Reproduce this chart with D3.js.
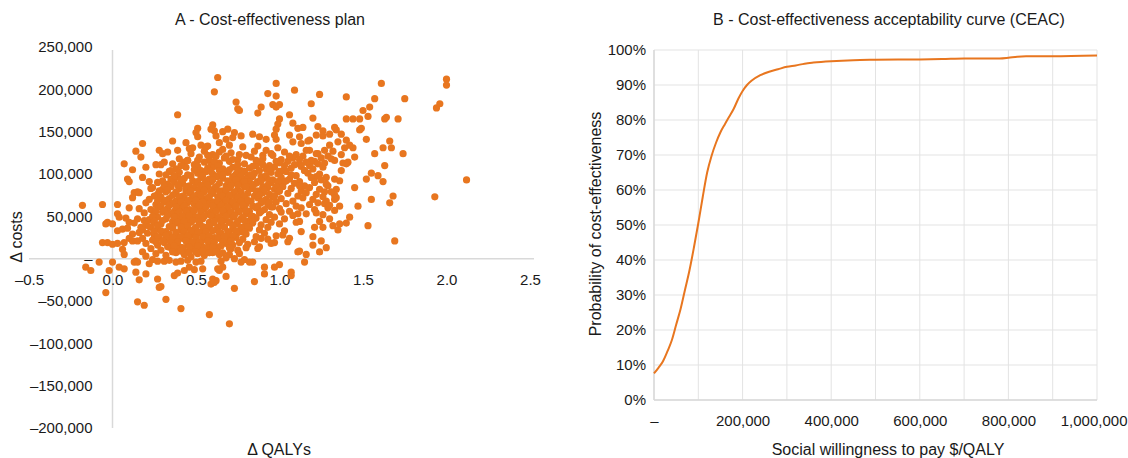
<!DOCTYPE html>
<html>
<head>
<meta charset="utf-8">
<script src="https://cdn.jsdelivr.net/npm/d3@7"></script>
<style>
    body { margin: 0; background: #fff; }
    svg text { font-family: "Liberation Sans", Arial, Helvetica, sans-serif; fill: #1a1a1a; }
</style>
</head>
<body>
<svg id="chart" width="1128" height="458"></svg>
<script>
// Panel A : incremental QALYs vs incremental costs (costs in thousands of $)
const scatterPoints = [
    // sparse upper / outer points
    [0.39,170],[0.51,154],[0.50,149],[0.51,144],[0.18,136],[0.14,127],[0.17,120],[0.28,128],[0.30,124],[0.36,139],
    [0.39,128],[0.44,137],[0.48,131],[0.53,134],[0.56,132],[0.07,112],[0.12,105],[0.09,94],[0.10,91],[0.26,111],
    [0.29,111],[0.36,112],[0.28,100],[0.34,103],[0.43,114],[0.45,116],[0.51,116],[0.22,91],[0.23,83],[0.13,78],[0.15,79],
    [0.63,214],[0.61,197],[0.98,207],[1.09,199],[1.24,194],[1.40,191],[0.93,195],[0.98,192],[0.74,185],[0.75,177],
    [0.76,175],[0.89,179],[0.96,182],[0.98,179],[1.00,182],[0.87,172],[1.06,170],[1.19,183],[1.00,165],[0.99,159],
    [0.98,153],[0.97,146],[0.98,141],[1.08,160],[1.11,154],[1.14,155],[1.20,166],[1.23,156],[1.26,151],[1.33,155],
    [1.34,152],[1.40,165],[1.06,146],[1.12,144],[1.18,140],[1.22,146],[1.26,145],[1.30,147],[1.08,138],[1.13,136],
    [1.17,139],[0.61,151],[0.62,145],[0.69,153],[0.68,141],[0.73,149],[0.77,145],[0.84,147],[0.88,144],[0.92,141],
    [0.57,133],[0.66,129],[0.70,134],[0.78,132],[0.87,133],[0.92,128],[0.99,131],[0.60,158],[0.59,153],[0.66,150],
    [0.72,143],[0.64,137],[0.46,130],
    [1.18,128],[1.23,124],[1.27,128],[1.32,127],[1.37,123],[1.39,131],[1.21,115],[1.27,113],[1.33,116],[1.38,113],
    [1.41,114],[1.12,112],[1.15,104],[1.18,110],[1.24,100],[1.28,96],[1.33,94],[1.36,92],[1.34,82],[1.29,86],
    [1.37,104],[1.40,112],[1.37,147],[1.40,140],[1.35,138],[1.30,134],[1.44,131],
    [1.61,207],[2.00,212],[2.00,205],[1.57,189],[1.75,189],[1.54,179],[1.50,175],[1.96,183],[1.94,178],
    [1.44,165],[1.48,165],[1.53,168],[1.63,165],[1.64,167],[1.71,165],[1.49,154],[1.48,152],[1.42,134],[1.52,141],
    [1.66,139],[1.62,131],[1.67,131],[1.45,120],[1.57,124],[1.74,124],[1.63,110],[1.55,101],[1.52,94],[1.59,98],
    [1.62,91],[2.12,93],[1.45,84],[1.68,74],[1.93,73],[1.55,70],
    [1.42,49],[1.47,62],[1.66,66],[1.53,39],[1.69,21],
    [1.27,65],[1.33,75],[1.34,72],[1.26,52],[1.30,47],[1.33,57],[1.24,44],[1.36,62],
    // lower / negative points
    [0.70,-77],[0.58,-66],[0.73,-35],[0.85,-27],[0.62,-26],[0.59,-30],[0.68,-21],[0.64,-14],[0.66,-10],[0.91,-10],
    [0.91,-18],[0.97,-10],[1.00,-7],[1.07,-16],[1.07,-20],[1.15,-4],[1.11,8],[1.16,5],[1.24,8],[1.28,13],
    [1.20,26],[1.20,16],[1.25,21],[1.21,37],[1.26,37],[1.32,39],[1.35,34],[1.36,41],[1.40,42],[1.13,32],
    [1.12,9],[1.29,60],[1.28,68],[1.18,64],[1.16,53],[1.11,53],[1.10,43],[1.05,20],[1.06,24],[1.03,33],
    [0.98,27],[0.97,19],[0.93,23],[0.87,12],[0.84,-4],[0.79,-1],[0.77,-4],[0.82,-4],[0.73,0],[0.70,5],
    [0.60,-24],[0.61,-28],[0.63,-12],[0.65,-3],[0.58,7],
    [-0.18,63],[-0.06,64],[-0.04,41],[-0.03,43],[0.03,64],[0.03,53],[0.04,49],[0.00,41],[0.03,33],[0.06,35],
    [0.10,43],[0.16,59],[0.15,47],[0.17,37],[0.19,45],[0.16,31],[0.12,29],[-0.06,19],[-0.03,19],[0.00,17],
    [0.03,18],[0.07,19],[0.10,24],[0.12,21],[0.15,21],[0.06,11],[0.07,5],[0.00,-4],[-0.02,-14],[0.04,-10],
    [0.07,-12],[-0.08,-4],[-0.16,-10],[-0.13,-14],[-0.04,-40],[0.13,-4],[0.14,-3],[0.15,-4],[0.18,8],[0.20,3],
    [0.22,-6],[0.24,-1],[0.27,-3],[0.31,-3],[0.34,-2],[0.38,-4],[0.41,-3],[0.45,-2],[0.50,-4],[0.53,-3],
    [0.14,-16],[0.20,-18],[0.16,-25],[0.27,-24],[0.28,-34],[0.29,-33],[0.32,-48],[0.15,-51],[0.19,-55],[0.41,-59],
    [0.37,-20],[0.39,-17],[0.43,-14],[0.46,-10],[0.49,-13],[0.54,-12],
    // dense core
    [0.33,126],[0.47,124],[0.55,127],[0.60,123],[0.64,126],[0.71,125],[0.80,122],[0.85,127],[0.95,124],[1.03,126],[1.10,123],[1.16,128],[1.22,124],[1.29,121],
    [0.40,118],[0.52,120],[0.58,116],[0.62,121],[0.67,119],[0.75,117],[0.83,120],[0.90,118],[0.96,122],[1.01,117],[1.08,119],[1.14,121],[1.19,116],[1.25,119],[1.31,118],
    [0.31,114],[0.49,111],[0.55,114],[0.59,110],[0.64,113],[0.70,115],[0.79,112],[0.88,114],[0.94,110],[1.00,113],[1.05,115],[1.09,111],[1.16,114],[1.23,112],
    [0.20,108],[0.38,106],[0.44,108],[0.53,104],[0.57,107],[0.61,109],[0.66,106],[0.72,108],[0.77,104],[0.82,107],[0.86,110],[0.92,106],[0.97,108],[1.02,104],[1.07,107],[1.13,109],[1.20,106],[1.26,108],
    [0.32,99],[0.40,102],[0.47,98],[0.51,101],[0.56,103],[0.60,100],[0.63,97],[0.69,102],[0.74,100],[0.79,103],[0.81,98],[0.85,101],[0.89,97],[0.95,102],[0.99,100],[1.04,103],[1.10,98],[1.17,101],[1.22,97],
    [0.18,96],[0.35,94],[0.39,97],[0.43,95],[0.48,92],[0.53,96],[0.58,94],[0.62,97],[0.66,95],[0.71,92],[0.76,96],[0.80,94],[0.84,97],[0.87,91],[0.92,95],[0.96,93],[1.01,96],[1.06,94],[1.12,91],[1.19,96],[1.25,93],
    [0.27,90],[0.33,88],[0.37,91],[0.42,89],[0.46,86],[0.50,90],[0.55,88],[0.59,91],[0.64,89],[0.68,86],[0.73,90],[0.77,88],[0.82,91],[0.86,89],[0.90,85],[0.95,90],[1.00,88],[1.03,91],[1.09,89],[1.15,86],[1.21,90],[1.28,88],
    [0.24,84],[0.30,82],[0.35,85],[0.40,83],[0.44,80],[0.49,84],[0.52,82],[0.57,85],[0.61,83],[0.66,80],[0.70,84],[0.75,81],[0.79,85],[0.83,83],[0.88,80],[0.93,84],[0.97,82],[1.02,85],[1.07,83],[1.13,80],[1.18,84],[1.24,82],[1.31,79],
    [0.16,78],[0.27,76],[0.32,79],[0.38,77],[0.42,74],[0.46,78],[0.51,76],[0.55,79],[0.60,77],[0.63,73],[0.68,78],[0.72,76],[0.77,79],[0.81,77],[0.85,74],[0.90,78],[0.94,76],[0.99,79],[1.05,77],[1.11,74],[1.16,78],[1.22,76],[1.27,79],
    [0.12,72],[0.22,70],[0.29,73],[0.34,71],[0.38,68],[0.43,72],[0.47,70],[0.52,73],[0.56,71],[0.60,67],[0.65,72],[0.70,70],[0.74,73],[0.79,71],[0.83,68],[0.87,72],[0.92,70],[0.96,73],[1.01,71],[1.08,68],[1.14,72],[1.20,70],[1.26,73],[1.33,70],
    [0.20,66],[0.26,64],[0.31,67],[0.36,65],[0.40,62],[0.45,66],[0.49,64],[0.54,67],[0.58,65],[0.62,61],[0.67,66],[0.71,64],[0.76,67],[0.80,65],[0.84,62],[0.89,66],[0.93,64],[0.98,67],[1.04,65],[1.10,62],[1.23,66],[1.30,63],
    [0.10,60],[0.23,58],[0.28,61],[0.33,59],[0.37,56],[0.42,60],[0.46,58],[0.51,61],[0.55,59],[0.59,55],[0.64,60],[0.68,58],[0.73,61],[0.78,59],[0.82,56],[0.86,60],[0.91,58],[0.95,61],[1.00,59],[1.06,56],[1.13,60],[1.21,58],
    [0.19,54],[0.25,52],[0.30,55],[0.35,53],[0.39,50],[0.44,54],[0.48,52],[0.53,55],[0.57,53],[0.61,49],[0.66,54],[0.70,52],[0.75,55],[0.80,53],[0.84,50],[0.88,54],[0.94,52],[1.01,55],[1.08,51],[1.22,54],
    [0.08,48],[0.22,46],[0.27,49],[0.32,47],[0.36,44],[0.41,48],[0.45,46],[0.50,49],[0.54,47],[0.58,43],[0.63,48],[0.67,46],[0.72,49],[0.77,47],[0.81,44],[0.86,48],[0.92,46],[0.97,49],[1.03,47],[1.12,44],
    [0.13,42],[0.20,40],[0.25,43],[0.29,41],[0.34,38],[0.38,42],[0.43,40],[0.47,43],[0.52,41],[0.56,37],[0.60,42],[0.65,40],[0.70,43],[0.74,41],[0.79,38],[0.84,42],[0.89,40],[0.95,43],[1.00,41],
    [0.09,36],[0.18,34],[0.23,37],[0.27,35],[0.32,32],[0.36,36],[0.41,34],[0.45,37],[0.49,35],[0.54,31],[0.58,36],[0.62,34],[0.67,37],[0.72,35],[0.77,32],[0.82,36],[0.88,34],[0.93,37],
    [0.21,30],[0.25,28],[0.30,31],[0.34,29],[0.39,26],[0.43,30],[0.48,28],[0.52,31],[0.56,29],[0.61,25],[0.65,30],[0.70,28],[0.75,31],[0.80,29],[0.86,26],[0.91,30],[1.02,28],
    [0.18,24],[0.24,22],[0.28,25],[0.33,23],[0.37,20],[0.42,24],[0.46,22],[0.50,25],[0.55,23],[0.59,19],[0.64,24],[0.69,22],[0.74,25],[0.78,23],[0.85,20],[0.89,24],
    [0.20,18],[0.27,16],[0.31,19],[0.36,17],[0.40,14],[0.45,18],[0.49,16],[0.53,19],[0.58,17],[0.63,13],[0.68,18],[0.72,16],[0.76,19],[0.81,17],[0.88,14],[0.95,18],
    [0.23,12],[0.29,10],[0.35,13],[0.39,11],[0.44,8],[0.48,12],[0.52,10],[0.57,13],[0.62,11],[0.66,7],[0.71,12],[0.75,10],[0.80,13],
    [0.26,6],[0.32,4],[0.38,7],[0.43,5],[0.47,2],[0.51,6],[0.55,4],[0.60,7],[0.64,5],[0.68,1],[0.76,6],
    // core fill between the rows above
    [0.57,122],[0.68,121],[0.76,123],[0.90,122],[1.06,121],
    [0.45,116],[0.61,115],[0.72,117],[0.86,116],[0.98,115],[1.12,117],
    [0.41,110],[0.51,109],[0.63,110],[0.75,111],[0.84,109],[0.90,111],[1.03,110],
    [0.35,104],[0.49,105],[0.59,103],[0.64,104],[0.70,105],[0.75,103],[0.88,104],[0.94,105],[1.00,103],[1.15,104],
    [0.37,98],[0.45,99],[0.54,98],[0.66,99],[0.72,97],[0.77,98],[0.83,99],[0.92,98],[1.07,99],
    [0.30,92],[0.41,93],[0.51,91],[0.56,92],[0.60,93],[0.69,92],[0.74,93],[0.79,91],[0.89,92],[0.94,93],[0.99,91],[1.04,92],
    [0.31,86],[0.39,87],[0.44,85],[0.53,86],[0.57,87],[0.62,85],[0.71,86],[0.75,87],[0.80,85],[0.84,86],[0.93,87],[0.98,85],[1.12,86],
    [0.28,80],[0.33,81],[0.38,79],[0.47,80],[0.55,81],[0.59,79],[0.64,80],[0.68,81],[0.73,79],[0.86,80],[0.91,81],[1.00,80],
    [0.25,74],[0.36,75],[0.40,73],[0.49,74],[0.53,75],[0.58,73],[0.66,74],[0.70,75],[0.75,73],[0.79,74],[0.88,75],[0.97,74],
    [0.27,68],[0.32,69],[0.41,67],[0.45,68],[0.50,69],[0.54,67],[0.63,68],[0.68,69],[0.72,67],[0.77,68],[0.81,69],[0.90,68],[0.94,67],
    [0.29,62],[0.34,63],[0.38,61],[0.43,62],[0.52,63],[0.56,61],[0.60,62],[0.65,63],[0.69,61],[0.74,62],[0.78,63],[0.87,62],[0.96,61],
    [0.26,56],[0.31,57],[0.40,55],[0.44,56],[0.49,57],[0.53,55],[0.62,56],[0.66,57],[0.71,55],[0.76,56],[0.80,57],[0.89,56],
    [0.24,50],[0.33,51],[0.37,49],[0.42,50],[0.46,51],[0.51,49],[0.55,50],[0.59,51],[0.64,49],[0.68,50],[0.73,51],[0.78,49],[0.83,50],
    [0.25,44],[0.30,45],[0.39,43],[0.43,44],[0.48,45],[0.52,43],[0.61,44],[0.65,45],[0.70,43],[0.75,44],[0.79,45],[0.84,44],
    [0.22,38],[0.27,39],[0.36,37],[0.41,38],[0.45,39],[0.50,37],[0.54,38],[0.58,39],[0.63,37],[0.67,38],[0.72,39],[0.77,37],[0.81,38],
    [0.25,32],[0.29,33],[0.38,31],[0.43,32],[0.47,33],[0.51,31],[0.56,32],[0.60,33],[0.64,31],[0.69,32],[0.74,33],[0.79,31],
    [0.27,26],[0.32,27],[0.36,25],[0.41,26],[0.45,27],[0.50,25],[0.54,26],[0.58,27],[0.63,25],[0.67,26],[0.72,27],
    [0.26,20],[0.30,21],[0.35,19],[0.39,20],[0.44,21],[0.48,19],[0.52,20],[0.57,21],[0.61,19],[0.66,20],[0.71,21],
    [0.33,14],[0.37,15],[0.42,13],[0.46,14],[0.51,15],[0.55,13],[0.60,14],[0.65,15],[0.70,13],
    [0.36,8],[0.41,9],[0.46,7],[0.50,8],[0.54,9],[0.58,7],[0.62,8]
];
const qalyTicks = [-0.5, 0, 0.5, 1, 1.5, 2, 2.5];
const costTicks = [250000, 200000, 150000, 100000, 50000, 0, -50000, -100000, -150000, -200000];

// Panel B : CEAC
const wtpValues = [0, 10000, 20000, 30000, 40000, 50000, 60000, 70000, 80000, 90000, 100000, 110000, 120000,
    130000, 140000, 150000, 160000, 170000, 180000, 190000, 200000, 210000, 220000, 240000, 260000, 280000,
    300000, 320000, 340000, 360000, 400000, 450000, 500000, 600000, 650000, 700000, 780000, 800000, 820000,
    840000, 900000, 1000000];
const probValues = [0.076, 0.092, 0.110, 0.138, 0.170, 0.215, 0.260, 0.315, 0.370, 0.435, 0.505, 0.580, 0.650,
    0.698, 0.735, 0.765, 0.788, 0.810, 0.832, 0.860, 0.883, 0.900, 0.912, 0.928, 0.938, 0.945,
    0.952, 0.956, 0.961, 0.964, 0.968, 0.971, 0.972, 0.973, 0.974, 0.976, 0.976, 0.978, 0.981,
    0.982, 0.982, 0.984];
const wtpTicks = [0, 200000, 400000, 600000, 800000, 1000000];
const probTicks = [0, 0.1, 0.2, 0.3, 0.4, 0.5, 0.6, 0.7, 0.8, 0.9, 1];

const orange = '#e8761f';
const axisGrey = '#d9d9d9';
const tickSize = '15px';
const titleSize = '16px';
const svg = d3.select('#chart');

// ---------- A - Cost-effectiveness plan ----------
const xA = d3.scaleLinear().domain([-0.5, 2.5]).range([29, 530]);
const yA = d3.scaleLinear().domain([-200000, 250000]).range([428, 47]);

const gA = svg.append('g');

gA.append('line')
    .attr('x1', xA(-0.5)).attr('x2', xA(2.5) + 4)
    .attr('y1', yA(0)).attr('y2', yA(0))
    .attr('stroke', axisGrey).attr('stroke-width', 1.5);
gA.append('line')
    .attr('x1', xA(0)).attr('x2', xA(0))
    .attr('y1', yA(250000) + 3).attr('y2', yA(-200000))
    .attr('stroke', axisGrey).attr('stroke-width', 1.5);

const fmtCost = d => d === 0 ? '–' : d3.format(',')(d).replace('−', '–');
gA.append('g')
    .attr('transform', `translate(${xA(0)},0)`)
    .call(d3.axisLeft(yA).tickValues(costTicks).tickSize(0).tickPadding(20).tickFormat(fmtCost))
    .call(g => g.select('.domain').remove())
    .selectAll('text').style('font-size', tickSize);

gA.append('g')
    .attr('transform', `translate(0,${yA(0)})`)
    .call(d3.axisBottom(xA).tickValues(qalyTicks).tickSize(0).tickPadding(16)
        .tickFormat(d => d3.format('.1f')(d).replace('−', '–')))
    .call(g => g.select('.domain').remove())
    .selectAll('text').style('font-size', tickSize);

gA.selectAll('.dot')
    .data(scatterPoints)
    .enter()
    .append('circle')
    .attr('class', 'dot')
    .attr('cx', d => xA(d[0]))
    .attr('cy', d => yA(d[1] * 1000))
    .attr('r', 3.6)
    .attr('fill', orange);

gA.append('text')
    .attr('x', 270).attr('y', 25)
    .attr('text-anchor', 'middle')
    .style('font-size', titleSize)
    .text('A - Cost-effectiveness plan');

gA.append('text')
    .attr('x', 279).attr('y', 455)
    .attr('text-anchor', 'middle')
    .style('font-size', titleSize)
    .text('Δ QALYs');

gA.append('text')
    .attr('transform', 'rotate(-90)')
    .attr('x', -237).attr('y', 22)
    .attr('text-anchor', 'middle')
    .style('font-size', titleSize)
    .text('Δ costs');

// ---------- B - CEAC ----------
const xB = d3.scaleLinear().domain([0, 1000000]).range([654, 1097]);
const yB = d3.scaleLinear().domain([0, 1]).range([400, 50]);

const gB = svg.append('g');

gB.append('g')
    .selectAll('line')
    .data(d3.range(0, 1000001, 100000))
    .enter()
    .append('line')
    .attr('x1', d => xB(d)).attr('x2', d => xB(d))
    .attr('y1', yB(1)).attr('y2', yB(0))
    .attr('stroke', '#e3e3e3').attr('stroke-width', 1);

gB.append('g')
    .selectAll('line')
    .data(probTicks)
    .enter()
    .append('line')
    .attr('x1', xB(0)).attr('x2', xB(1000000))
    .attr('y1', d => yB(d)).attr('y2', d => yB(d))
    .attr('stroke', '#e3e3e3').attr('stroke-width', 1);

gB.append('line')
    .attr('x1', xB(0)).attr('x2', xB(0))
    .attr('y1', yB(1)).attr('y2', yB(0))
    .attr('stroke', axisGrey).attr('stroke-width', 1.5);
gB.append('line')
    .attr('x1', xB(0)).attr('x2', xB(1000000))
    .attr('y1', yB(0)).attr('y2', yB(0))
    .attr('stroke', axisGrey).attr('stroke-width', 1.5);

gB.append('g')
    .attr('transform', `translate(${xB(0)},0)`)
    .call(d3.axisLeft(yB).tickValues(probTicks).tickSize(0).tickPadding(8).tickFormat(d3.format('.0%')))
    .call(g => g.select('.domain').remove())
    .selectAll('text').style('font-size', tickSize);

// the last label sits against the right edge, as in the original
gB.append('g')
    .attr('transform', `translate(0,${yB(0)})`)
    .call(d3.axisBottom(xB).tickValues(wtpTicks).tickSize(0).tickPadding(15)
        .tickFormat(d => d === 0 ? '–' : d3.format(',')(d)))
    .call(g => g.select('.domain').remove())
    .selectAll('text')
    .style('font-size', tickSize)
    .attr('text-anchor', d => d === 1000000 ? 'end' : 'middle')
    .attr('x', d => d === 1000000 ? 30 : 0);

const ceac = wtpValues.map((w, i) => ({ wtp: w, prob: probValues[i] }));

const line = d3.line()
    .x(d => xB(d.wtp))
    .y(d => yB(d.prob))
    .curve(d3.curveMonotoneX);

gB.append('path')
    .datum(ceac)
    .attr('d', line)
    .attr('fill', 'none')
    .attr('stroke', orange)
    .attr('stroke-width', 2);

gB.append('text')
    .attr('x', 889).attr('y', 25)
    .attr('text-anchor', 'middle')
    .style('font-size', titleSize)
    .text('B - Cost-effectiveness acceptability curve (CEAC)');

gB.append('text')
    .attr('x', 888).attr('y', 455)
    .attr('text-anchor', 'middle')
    .style('font-size', titleSize)
    .text('Social willingness to pay $/QALY');

gB.append('text')
    .attr('transform', 'rotate(-90)')
    .attr('x', -224).attr('y', 601)
    .attr('text-anchor', 'middle')
    .style('font-size', titleSize)
    .text('Probability of cost-effectiveness');
</script>
</body>
</html>
